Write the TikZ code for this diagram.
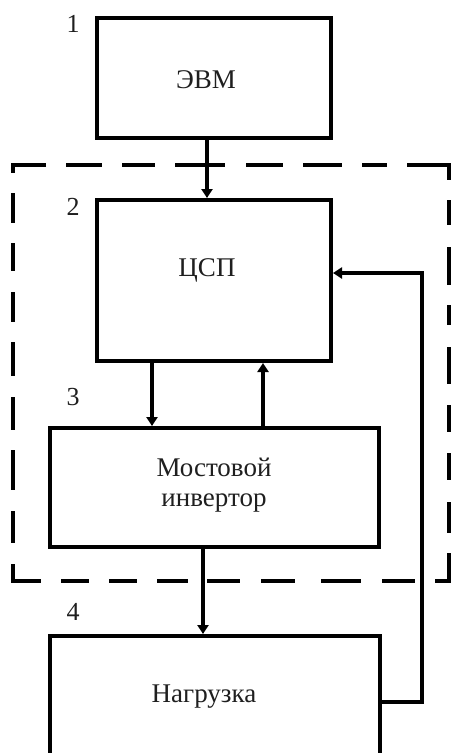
\documentclass[tikz,border=0pt]{standalone}
\usepackage{fontspec}
\setmainfont{Liberation Serif}
\usetikzlibrary{arrows.meta}
\begin{document}
\begin{tikzpicture}[x=1pt,y=-1pt,
  blk/.style={draw=black,line width=4pt,rectangle,inner sep=0pt,anchor=north west},
  txt/.style={font=\fontsize{27}{30}\selectfont,align=center,inner sep=0pt,text=black!88},
  num/.style={font=\fontsize{26}{30}\selectfont,inner sep=0pt,text=black!88},
  conn/.style={line width=4pt,-{Triangle[length=9pt,width=11pt]}},
  dsh/.style={line width=4pt,line cap=butt,line join=miter}]
\clip (0,0) rectangle (451,753);
\fill[white] (0,0) rectangle (451,753);
% dashed frame (drawn piece by piece)
\draw[dsh] (46,165) -- (13,165) -- (13,173);
\draw[dsh] (407,165) -- (449,165) -- (449,180);
\draw[dsh] (13,564) -- (13,581) -- (41,581);
\draw[dsh] (435,581) -- (449,581) -- (449,553);
\foreach \a/\b in {66/102,122/155,175/225,246/283,303/342,362/387}
  \draw[dsh] (\a,165) -- (\b,165);
\foreach \a/\b in {61/89,109/137,157/188,207/240,261/295,321/361,382/415}
  \draw[dsh] (\a,581) -- (\b,581);
\foreach \a/\b in {193/223,243/271,292/322,342/376,397/430,450/490,511/543}
  \draw[dsh] (13,\a) -- (13,\b);
\foreach \a/\b in {200/225,247/285,305/325,347/384,405/432,453/480,502/533}
  \draw[dsh] (449,\a) -- (449,\b);
% boxes
\node[blk,minimum width=234pt,minimum height=120pt] (b1) at (95,16) {};
\node[blk,minimum width=234pt,minimum height=161pt] (b2) at (95,198) {};
\node[blk,minimum width=329pt,minimum height=119pt] (b3) at (48,426) {};
\node[blk,minimum width=330pt,minimum height=126pt] (b4) at (48,634) {};
% texts
\node[txt] (t1) at (206,80) {ЭВМ};
\node[txt] (t2) at (207,270) {ЦСП};
\node[txt] (t3) at (214,485) {Мостовой\\инвертор};
\node[txt] (t4) at (204,697) {Нагрузка};
% numbers
\node[num] (n1) at (73,24) {1};
\node[num] (n2) at (73,207) {2};
\node[num] (n3) at (73,397) {3};
\node[num] (n4) at (73,612) {4};
% connectors
\draw[conn] (b1.south -| 207,0) -- (b2.north -| 207,0);
\draw[conn] (b2.south -| 152,0) -- (b3.north -| 152,0);
\draw[conn] (b3.north -| 263,0) -- (b2.south -| 263,0);
\draw[conn] (b3.south -| 203,0) -- (b4.north -| 203,0);
\coordinate (c1) at (422,702);
\coordinate (c2) at (422,273);
\draw[conn] (b4.east |- c1) -- (c1) -- (c2) -- (b2.east |- c2);
\end{tikzpicture}
\end{document}
